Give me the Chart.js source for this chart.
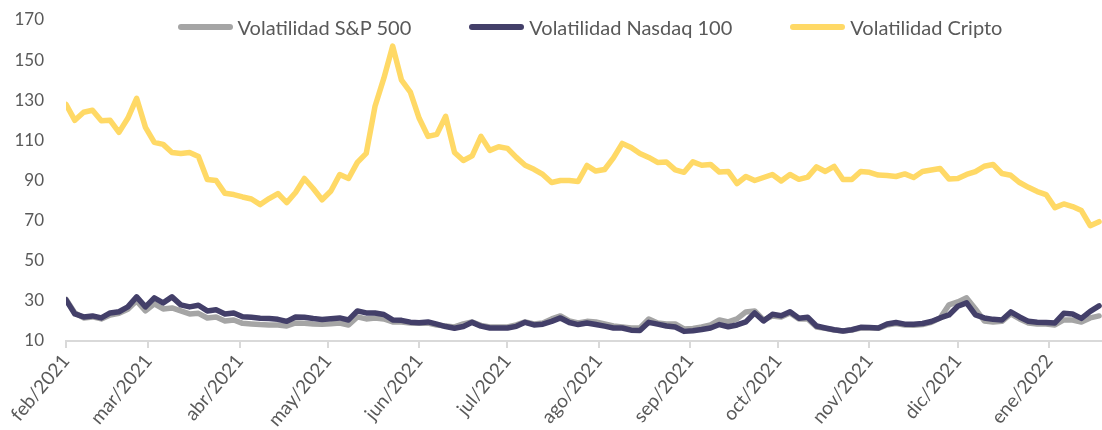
<!DOCTYPE html>
<html>
<head>
<meta charset="utf-8">
<script src="https://cdn.jsdelivr.net/npm/chart.js@4/dist/chart.umd.min.js"></script>
<style>
  html, body { margin: 0; padding: 0; background: #fff; }
  #wrap { position: relative; width: 1102px; height: 430px; }
  #legend {
    position: absolute; top: 15px; left: 78px; right: 0;
    display: flex; justify-content: center; gap: 58px;
    font-family: Lato, sans-serif; font-size: 20px; color: #595959;
  }
  #legend .item { display: flex; align-items: center; }
  #legend .swatch { display: inline-block; width: 55px; height: 6px; border-radius: 3px; margin-right: 5px; }
</style>
</head>
<body>
<div id="wrap">
  <canvas id="chart" width="1102" height="430"></canvas>
  <div id="legend"></div>
</div>
<script>
// días desde 01/feb/2021, cada 3 días
const days = [];
for (let d = 0; d <= 351; d += 3) days.push(d);

const monthDays = [0, 28, 59, 89, 120, 150, 181, 212, 242, 273, 303, 334];
const monthLabels = [
    "feb/2021", "mar/2021", "abr/2021", "may/2021", "jun/2021", "jul/2021",
    "ago/2021", "sep/2021", "oct/2021", "nov/2021", "dic/2021", "ene/2022"
];
const yTicks = [10, 30, 50, 70, 90, 110, 130, 150, 170];

const volSP = [
    30.8, 24, 21.5, 22, 21, 23, 23.8, 25.8, 30, 25,
    28.5, 26, 26.5, 25, 23.5, 23.8, 21.5, 22, 20, 20.5,
    18.8, 18.5, 18.2, 18, 18, 17.5, 19, 18.8, 18.5, 18.3,
    18.6, 19, 18, 22, 21, 21.5, 21, 19.5, 19.5, 19,
    18.8, 19, 18, 17.5, 17, 18.5, 19.5, 17.8, 17, 17,
    17, 18, 19.5, 18.5, 19, 21, 22.5, 20, 19, 19.8,
    19.5, 18.5, 17.5, 17, 16.5, 16.5, 21, 19, 18.5, 18.5,
    16, 16.3, 17, 18, 20.5, 19.5, 21, 24.5, 25, 20.5,
    22.5, 22, 24, 21, 21, 17, 16.3, 15.5, 15, 15.5,
    16.5, 16.5, 16.3, 18, 18.7, 18, 17.8, 18.2, 19.3, 21.5,
    28, 29.5, 31.5, 26, 20, 19.5, 19.8, 23.5, 21, 19,
    18.5, 18.5, 18, 20.5, 20.5, 19.5, 21.5, 22.5
];

const volNasdaq = [
    30.5, 23.5, 22, 22.5, 21.5, 24, 24.6, 27, 32, 27,
    31.5, 29, 32, 28, 27, 27.8, 25, 25.6, 23.5, 24,
    22.1, 21.8, 21.4, 21.2, 20.8, 19.8, 22, 21.8, 21.2, 20.7,
    21.1, 21.5, 20.5, 25, 24, 24, 23.2, 20.5, 20.3, 19.4,
    19.1, 19.5, 18.4, 17.2, 16.4, 17.2, 19.3, 17.4, 16.5, 16.5,
    16.5, 17.3, 19.3, 18, 18.4, 19.8, 21.5, 19.2, 18.2, 19,
    18.2, 17.4, 16.5, 16.5, 15.4, 15.2, 19.3, 18.4, 17.5, 17,
    14.8, 15.1, 15.7, 16.5, 18.2, 17.1, 18, 19.5, 24, 20,
    23.3, 22.6, 24.6, 21.4, 21.8, 17.5, 16.5, 15.6, 15, 15.6,
    16.8, 16.7, 16.5, 18.5, 19.2, 18.4, 18.4, 18.7, 19.7, 21.5,
    23, 27.3, 29, 23, 21.5, 20.8, 20.5, 24.5, 22, 19.8,
    19.4, 19.2, 19, 23.8, 23.5, 21.3, 24.8, 27.5
];

const volCripto = [
    128, 120, 124, 125, 119.8, 120, 114, 121, 131, 116.5,
    109, 108, 104, 103.5, 104, 102, 90.5, 90, 83.6, 83,
    81.8, 80.8, 78, 81, 83.5, 79, 84, 91, 86, 80.4,
    84.8, 93, 91, 99, 103.5, 127, 141, 157, 140, 134,
    121, 112, 113, 122, 104, 100, 102.3, 112, 105, 106.8,
    106, 101.5, 97.6, 95.6, 93, 89, 90, 90, 89.5, 97.5,
    94.7, 95.5, 101.3, 108.5, 106.5, 103.5, 101.5, 99, 99.2, 95.3,
    94.1, 99.3, 97.6, 98, 94.2, 94.5, 88.5, 92, 90, 91.5,
    93, 89.8, 93, 90.6, 91.7, 96.8, 94.5, 97, 90.5, 90.5,
    94.5, 94.1, 92.7, 92.5, 92, 93.3, 91.5, 94.5, 95.2, 96,
    90.8, 91, 93, 94.4, 97.1, 98, 93.5, 92.6, 89, 86.6,
    84.5, 83, 76.5, 78.3, 77, 75, 67.5, 69.5
];

const htmlLegend = {
    id: "htmlLegend",
    afterUpdate(chart) {
        const box = document.getElementById("legend");
        box.innerHTML = "";
        const items = chart.options.plugins.legend.labels
            .generateLabels(chart)
            .sort((a, b) => a.datasetIndex - b.datasetIndex);
        items.forEach(item => {
            const el = document.createElement("div");
            el.className = "item";
            const sw = document.createElement("span");
            sw.className = "swatch";
            sw.style.background = item.strokeStyle;
            const tx = document.createElement("span");
            tx.textContent = item.text;
            el.appendChild(sw);
            el.appendChild(tx);
            box.appendChild(el);
        });
    }
};

function serie(label, values, color, order) {
    return {
        label: label,
        data: values.map((v, i) => ({ x: days[i], y: v })),
        borderColor: color,
        backgroundColor: color,
        borderWidth: 5.5,
        borderJoinStyle: "round",
        borderCapStyle: "round",
        pointRadius: 0,
        tension: 0,
        order: order
    };
}

Chart.defaults.font.family = "Lato, sans-serif";
Chart.defaults.color = "#595959";

new Chart(document.getElementById("chart"), {
    type: "line",
    data: {
        datasets: [
            serie("Volatilidad S&P 500", volSP, "#A5A5A5", 2),
            serie("Volatilidad Nasdaq 100", volNasdaq, "#433F69", 1),
            serie("Volatilidad Cripto", volCripto, "#FFD966", 0)
        ]
    },
    options: {
        responsive: false,
        animation: false,
        layout: { padding: { top: 20, right: 0, left: 0, bottom: -3 } },
        plugins: {
            legend: { display: false },
            tooltip: { enabled: false }
        },
        scales: {
            x: {
                type: "linear",
                min: 0,
                max: 352,
                afterBuildTicks: scale => {
                    scale.ticks = monthDays.map(v => ({ value: v }));
                },
                afterFit: scale => {
                    scale.paddingLeft = 0;
                    scale.paddingRight = 0;
                },
                ticks: {
                    autoSkip: false,
                    maxRotation: 50,
                    minRotation: 50,
                    font: { size: 19 },
                    padding: 2,
                    callback: (value) => monthLabels[monthDays.indexOf(value)]
                },
                grid: {
                    drawOnChartArea: false,
                    drawTicks: true,
                    tickLength: 7,
                    color: "#D9D9D9",
                    lineWidth: 2
                },
                border: { color: "#D9D9D9", width: 2 }
            },
            y: {
                min: 10,
                max: 170,
                afterBuildTicks: scale => {
                    scale.ticks = yTicks.map(v => ({ value: v }));
                },
                afterFit: scale => {
                    scale.width = 66;
                    scale.paddingTop = 0;
                    scale.paddingBottom = 0;
                },
                ticks: {
                    font: { size: 17 },
                    padding: 22
                },
                grid: { display: false, drawTicks: false },
                border: { display: false }
            }
        }
    },
    plugins: [htmlLegend]
});
</script>
</body>
</html>
